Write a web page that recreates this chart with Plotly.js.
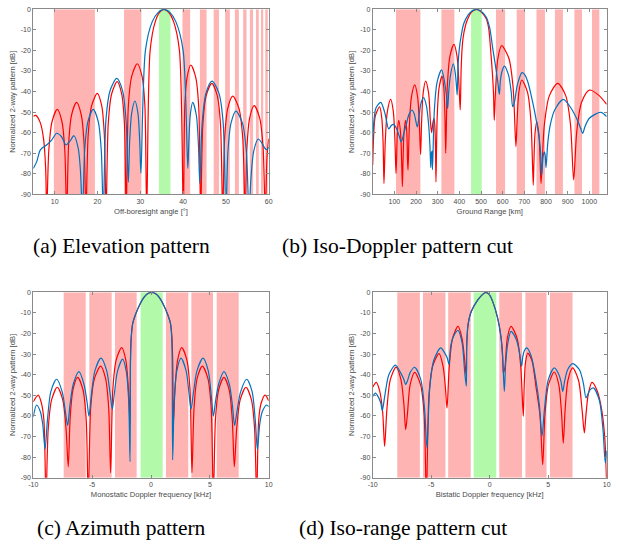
<!DOCTYPE html>
<html><head><meta charset="utf-8">
<script src="https://cdn.plot.ly/plotly-3.0.1.min.js"></script>
<style>html,body{margin:0;padding:0;background:#fff}#chart{width:628px;height:540px}</style>
</head><body><div id="chart"></div>
<script>
// ---------- Panel (a) Elevation pattern ----------
const aRedX = [5,5.6,6.6,7.4,7.9,8.13, 8.62,9.37,10.6,11.7,12.36,12.8, 13.26,13.95,15.1,16.2,16.86,17.3, 17.83,18.63,19.95,20.98,21.59,22.0, 22.52,23.3,24.6,25.65,26.28,26.7, 27.22,28.0,29.3,30.4,31.06,31.5, 32.3,33.5,34.5,35.5,36.64,37.78,39.14,40.05, 40.4,40.93,41.8,42.95,43.64,44.1, 44.62,45.4,46.7,47.98,48.74,49.25, 49.72,50.43,51.6,53.05,53.92,54.5, 54.92,55.55,56.6,57.9,58.68,59.2, 59.6,60];
const aRedY = [-52,-51.6,-55,-63,-78,-100, -68.7,-54.7,-48.7,-54.7,-68.7,-100, -65.3,-51.3,-45.3,-51.3,-65.3,-100, -60.9,-46.9,-40.9,-46.9,-60.9,-100, -55.2,-41.2,-35.2,-41.2,-55.2,-100, -46.5,-32.5,-26.5,-32.5,-46.5,-100, -20,-6,-1.5,0,-1.5,-6,-20,-100, -47.1,-33.1,-27.1,-33.1,-47.1,-100, -56,-42,-36,-42,-56,-100, -62.2,-48.2,-42.2,-48.2,-62.2,-100, -66.9,-52.9,-46.9,-52.9,-66.9,-100, -72,-63];
const aBlueX = [5,5.8,6.5,7.0,8.1,9.3,10.45,11.6,12.65,13.6,14.5,15.5,16.0,16.5, 17.0,17.75,19.0,20.18,20.88,21.35, 21.98,22.93,24.5,25.85,26.66,27.2, 27.51,27.98,28.75,29.45,29.87,30.15, 31.2,32.8,34.2,35.5,36.9,38.3,40.0,41.1, 41.33,41.68,42.25,43.08,43.57,43.9, 44.47,45.33,46.75,48.38,49.35,50.0, 50.47,51.18,52.35,53.88,54.79,55.4, 55.83,56.5,57.57,58.4,59.1,59.6,60];
const aBlueY = [-77.4,-74.1,-69,-67.6,-66,-63.6,-60.3,-62,-66,-64,-61.5,-67.6,-78,-100, -68.7,-54.7,-48.7,-54.7,-68.7,-100, -53.6,-39.6,-33.6,-39.6,-53.6,-84.2, -64.6,-50.6,-44.6,-50.6,-64.6,-79.8, -20,-6,-1.5,0,-1.5,-6,-20,-77.4, -65.3,-51.3,-45.3,-51.3,-65.3,-84.7, -54.9,-40.9,-34.9,-40.9,-54.9,-100, -69.5,-55.5,-49.5,-55.5,-69.5,-100, -83,-69,-63.1,-65,-67.6,-68.3,-67];
const aRedBands = [[9.8,19.4],[26.2,30.25],[39.85,41.65],[43.92,45.48],[47.15,48.38],[49.82,50.93],[52.1,53.03],[54.03,54.83],[55.6,56.35],[57.02,57.68],[58.2,58.72],[59.2,59.78]];
const aGreenBand = [34.35,37.05];
const aTicks = [10,20,30,40,50,60];

// ---------- Panel (b) Iso-Doppler pattern cut ----------
const bRedX = [0,5,12,32,42,48,52, 58.2,67.5,83,95.3,102.6,107.5, 110,113.8,120,128.5,133.6,137, 140,144.5,152,157.5,160.8,163, 169.2,178.5,194,207.5,215.6,221, 225.7,232.7,244.4,258.2,266.5,272, 278,283,287,290,292, 297.6,306,320,328.5,333.6,337, 344.6,356,375,389.5,398.2,404, 408,412,417,428,440,455,478.5,500,523,535,546,553,558,561, 567.8,578,595,628,647.8,661, 666.4,674.5,688,714.5,730.4,741, 744,749,757,767,773,777, 792.4,815.5,854,890.8,912.8,927.5, 942,963.8,1000,1040,1080];
const bRedY = [-75.8,-60,-52,-47.4,-53,-65,-84.7, -63.8,-49.8,-43.8,-49.8,-63.8,-79.8, -74,-60,-54,-60,-74,-86.3, -74,-60,-54,-60,-74,-78.2, -56.8,-42.8,-36.8,-42.8,-56.8,-70.6, -54.9,-40.9,-34.9,-40.9,-54.9,-60, -55,-53,-57,-68,-84, -52.5,-38.5,-32.5,-38.5,-52.5,-70, -37.1,-23.1,-17.1,-23.1,-37.1,-49, -30,-20,-14,-8,-4.4,-1.5,0,-1.2,-4.4,-9,-22,-32,-42,-54, -37.7,-23.7,-17.7,-23.7,-37.7,-66.8, -54.4,-40.4,-34.4,-40.4,-54.4,-85.5, -74.7,-60.7,-54.7,-60.7,-74.7,-84.7, -56,-42,-36,-42,-56,-83, -59.3,-45.3,-39.3,-41.5,-46.2];
const bBlueX = [0,6,15,37,55,74,86,96,110,122,132,142,155,168,182,192,206,214,222,235,248,258,264,268,271,274,276, 284.4,297,318,332,340.4,346, 351,359,372,381,386.4,390, 394,400,409,420,440,458,478.5,500,523,540,554,566,577,584.5, 589,596,607.6,627,639,646, 654.6,667.5,689,700,715,738,755,769,775,780, 786,792,796,800, 808,820,840,880,915,945,960,969,980,1000,1053,1080];
const bBlueY = [-64.5,-54,-48,-45.3,-50,-58.2,-56.5,-56,-58,-61.5,-64.5,-61,-56,-51,-49,-51,-57.2,-52,-46,-43,-47,-56,-66,-77,-70,-69,-78, -49.5,-35.5,-29.5,-35.5,-42,-48.3, -40,-32,-26.5,-31,-37,-41.7, -27,-19,-12.5,-7,-2.8,-0.8,0,-0.9,-3.6,-9,-19,-27,-35,-41.4, -35,-30.5,-27.6,-32,-40,-47.4, -45,-36.8,-30.8,-31.5,-35,-45,-54,-63,-70,-80.7, -72,-69.3,-71,-77, -65,-56,-49,-43.8,-48,-54,-58,-60.4,-57,-53,-50.1,-52.2];
const bRedBands = [[107.5,220],[317,377],[569,611],[664.5,703],[756,795],[841,878],[931,966],[1012,1046]];
const bGreenBand = [454,503];
const bTicks = [100,200,300,400,500,600,700,800,900,1000];

// ---------- Panel (c) Azimuth pattern ----------
const cRedX = [-10,-9.58,-9.3,-9.1,-8.92, -8.73,-8.44,-7.96,-7.5,-7.22,-7.03, -6.87,-6.63,-6.23,-5.78,-5.51,-5.33, -5.12,-4.8,-4.28,-3.86,-3.6,-3.43, -3.24,-2.96,-2.49,-2.14,-1.92,-1.78, -1.75,-1.68,-1.55,-1.3,-1.0,-0.6,-0.3,0.06,0.4,0.7,1.1,1.4,1.65,1.78,1.85,1.9, 2.04,2.26,2.61,3.05,3.31,3.48, 3.66,3.92,4.36,4.83,5.11,5.3, 5.48,5.75,6.2,6.64,6.9,7.08, 7.28,7.58,8.07,8.53,8.8,8.98, 9.15,9.35,9.69,10];
const cRedY = [-53.1,-49.9,-54,-62,-100, -66.1,-52.1,-46.1,-52.1,-66.1,-84.7, -61.3,-47.3,-41.3,-47.3,-61.3,-100, -55.8,-41.8,-35.8,-41.8,-55.8,-87.6, -46.9,-32.9,-26.9,-32.9,-46.9,-63.9, -35,-22,-15,-10.5,-6.5,-2.5,-0.7,0,-0.7,-2.5,-6.5,-10.5,-15,-22,-35,-63.9, -46.9,-32.9,-26.9,-32.9,-46.9,-87.6, -55.8,-41.8,-35.8,-41.8,-55.8,-100, -61.3,-47.3,-41.3,-47.3,-61.3,-84.7, -66.1,-52.1,-46.1,-52.1,-66.1,-100, -62,-54,-49.9,-52.6];
const cBlueX = [-10,-9.72,-9.4,-9.2,-9.0, -8.8,-8.51,-8.02,-7.55,-7.27,-7.08, -6.89,-6.6,-6.12,-5.7,-5.44,-5.27, -5.07,-4.76,-4.25,-3.77,-3.48,-3.29, -3.11,-2.85,-2.41,-2.1,-1.9,-1.78, -1.74,-1.68,-1.55,-1.3,-1.0,-0.6,-0.3,0.06,0.4,0.7,1.1,1.4,1.65,1.76,1.8,1.84, 1.98,2.2,2.55,2.98,3.23,3.4, 3.6,3.91,4.42,4.86,5.12,5.3, 5.48,5.75,6.2,6.65,6.92,7.1, 7.3,7.62,8.13,8.59,8.86,9.04, 9.24,9.45,9.83,10];
const cBlueY = [-60.4,-54.7,-58,-64,-76.2, -62.2,-48.2,-42.2,-48.2,-58,-64.7, -55,-44.5,-38.5,-44.5,-53,-60.1, -50,-38,-32,-38,-49,-56.8, -49,-38.4,-32.4,-38.4,-52.4,-82.2, -32,-22,-15,-10.5,-6.5,-2.5,-0.7,0,-0.7,-2.5,-6.5,-10.5,-15,-22,-32,-81.4, -52,-38,-32,-38,-49,-56.8, -49,-38,-32,-38,-50,-60.1, -53,-44.5,-38.5,-44.5,-55,-64.7, -58,-48.2,-42.2,-48.2,-62.2,-76.2, -64,-58,-54.7,-55.5];
const cRedBands = [[-7.42,-5.55],[-5.24,-3.34],[-3.06,-1.22],[1.27,3.17],[3.43,5.27],[5.58,7.45]];
const cGreenBand = [-0.88,0.99];
const cTicks = [-10,-5,0,5,10];

// ---------- Panel (d) Iso-range pattern cut ----------
const dRedX = [-10,-9.69,-9.4,-9.15,-8.98, -8.78,-8.49,-8.0,-7.59,-7.34,-7.18, -7.03,-6.8,-6.41,-5.91,-5.61,-5.41, -5.19,-4.87,-4.33,-3.99,-3.79,-3.65, -3.46,-3.18,-2.71,-2.36,-2.14,-2.0, -1.96,-1.85,-1.57,-1.0,-0.6,-0.34,-0.05,0.25,0.68,0.97,1.1,1.17, 1.3,1.5,1.82,2.35,2.66,2.87, 2.95,3.06,3.25,3.6,3.96,4.3,4.53, 4.73,5.03,5.52,5.9,6.14,6.29, 6.45,6.69,7.09,7.59,7.89,8.09, 8.22,8.42,8.74,9.2,9.6,9.85,10];
const dRedY = [-46.1,-43.7,-48,-58,-74.8, -56.3,-42.3,-36.3,-42.3,-54,-66.7, -58.9,-44.9,-38.9,-44.9,-58.9,-100, -49.8,-35.8,-29.8,-35.8,-46,-56.2, -36.5,-22.5,-16.5,-22.5,-33,-40.8, -25,-15.7,-9.2,-3.6,-1,0,-1,-4.4,-12.5,-22,-30,-39.2, -36.5,-22.5,-16.5,-22.5,-36.5,-60.2, -45,-34,-29.5,-33,-46,-60,-83.7, -58.7,-44.7,-38.7,-44.7,-58.7,-73.2, -56.7,-42.7,-36.7,-42.7,-56.7,-68.3, -60,-49.7,-43.7,-48,-58,-72,-95];
const dBlueX = [-10,-9.77,-9.5,-9.3,-9.18, -8.96,-8.62,-8.06,-7.62,-7.36,-7.18, -7.03,-6.8,-6.41,-5.89,-5.57,-5.36, -5.13,-4.78,-4.19,-3.84,-3.62,-3.48, -3.33,-3.1,-2.71,-2.36,-2.14,-2.0, -1.97,-1.85,-1.57,-1.0,-0.6,-0.34,-0.05,0.25,0.68,0.97,1.12,1.25, 1.36,1.54,1.82,2.28,2.55,2.73, 2.82,2.95,3.16,3.55,3.96,4.25,4.47, 4.68,5.0,5.52,5.88,6.1,6.24, 6.41,6.67,7.09,7.66,8.0,8.23, 8.36,8.55,8.86,9.37,9.68,9.88,10];
const dBlueY = [-50.5,-48.9,-51,-54,-57.4, -50,-40,-35.4,-39,-42,-44.8, -43,-39,-36.4,-42.4,-56.4,-75.6, -47,-33,-27,-29.5,-32,-35.1, -26,-21.5,-18.5,-24.5,-38.5,-45.6, -27,-15.7,-9.2,-3.6,-1,0,-1,-4.4,-12.5,-22,-33,-48.1, -35,-25,-19,-23,-29.5,-35.9, -31.5,-28.5,-27,-31,-43,-55,-69.9, -56.7,-42.7,-36.7,-39.5,-43.5,-48.1, -43,-37.5,-34.6,-37.5,-44,-51.3, -50,-47.5,-46.4,-52.4,-66.4,-82.9,-77];
const dRedBands = [[-7.9,-5.97],[-5.7,-3.78],[-3.55,-1.62],[0.82,2.76],[3.05,4.86],[5.15,7.08]];
const dGreenBand = [-1.37,0.56];
const dTicks = [-10,-5,0,5,10];

const yTicks = [-90,-80,-70,-60,-50,-40,-30,-20,-10,0];
const xTitles = ['Off-boresight angle [°]','Ground Range [km]','Monostatic Doppler frequency [kHz]','Bistatic Doppler frequency [kHz]'];
const yTitle = 'Normalized 2-way pattern [dB]';
const captions = ['(a) Elevation pattern','(b) Iso-Doppler pattern cut','(c) Azimuth pattern','(d) Iso-range pattern cut'];

// ---------- build ----------
const RED = 'rgb(255,0,0)', BLUE = 'rgb(0,114,189)';
const BAND_RED = 'rgb(255,180,180)', BAND_GREEN = 'rgb(178,250,170)';
const panels = [
  {rx:aRedX, ry:aRedY, bx:aBlueX, by:aBlueY, bands:aRedBands, green:aGreenBand, ticks:aTicks, range:[5,60]},
  {rx:bRedX, ry:bRedY, bx:bBlueX, by:bBlueY, bands:bRedBands, green:bGreenBand, ticks:bTicks, range:[0,1080]},
  {rx:cRedX, ry:cRedY, bx:cBlueX, by:cBlueY, bands:cRedBands, green:cGreenBand, ticks:cTicks, range:[-10,10]},
  {rx:dRedX, ry:dRedY, bx:dBlueX, by:dBlueY, bands:dRedBands, green:dGreenBand, ticks:dTicks, range:[-10,10]}
];
const W = 628, H = 540;
const xdom = [[33.3/W, 268.7/W],[372.7/W, 606.7/W]];
const ydom = [[1-194.3/H, 1-9.3/H],[1-477.7/H, 1-292.3/H]];
const capPos = [[121.5,245.5],[397,245.5],[121.5,527.5],[402.5,527.5]];

const traces = [], shapes = [], annotations = [];
const layout = {width:W, height:H, margin:{l:0,r:0,t:0,b:0}, paper_bgcolor:'#fff', plot_bgcolor:'#fff', showlegend:false};
const axCol = '#8a8a8a', lblCol = '#4a4a4a';
panels.forEach((p, i) => {
  const n = i+1, xs = n===1?'x':'x'+n, ys = n===1?'y':'y'+n;
  const xk = n===1?'xaxis':'xaxis'+n, yk = n===1?'yaxis':'yaxis'+n;
  traces.push({x:p.rx, y:p.ry, xaxis:xs, yaxis:ys, type:'scatter', mode:'lines', line:{color:RED, width:1.2, shape:'spline', smoothing:0.8}, hoverinfo:'skip'});
  traces.push({x:p.bx, y:p.by, xaxis:xs, yaxis:ys, type:'scatter', mode:'lines', line:{color:BLUE, width:1.2, shape:'spline', smoothing:0.8}, hoverinfo:'skip'});
  p.bands.forEach(b => shapes.push({type:'rect', xref:xs, yref:ys, x0:b[0], x1:b[1], y0:-90, y1:0, fillcolor:BAND_RED, line:{width:0}, layer:'below'}));
  shapes.push({type:'rect', xref:xs, yref:ys, x0:p.green[0], x1:p.green[1], y0:-90, y1:0, fillcolor:BAND_GREEN, line:{width:0}, layer:'below'});
  const common = {showline:true, linecolor:axCol, linewidth:1, mirror:'ticks', ticks:'inside', ticklen:3, tickwidth:1, tickcolor:axCol,
    showgrid:false, zeroline:false, tickfont:{family:'Liberation Sans, Arial, sans-serif', size:7, color:lblCol}, fixedrange:true};
  layout[xk] = Object.assign({}, common, {domain:xdom[i%2], anchor:ys, range:p.range, tickmode:'array', tickvals:p.ticks, ticktext:p.ticks.map(String),
    title:{text:xTitles[i], font:{family:'Liberation Sans, Arial, sans-serif', size:7.6, color:lblCol}, standoff:4}});
  layout[yk] = Object.assign({}, common, {domain:ydom[Math.floor(i/2)], anchor:xs, range:[-90,0], tickmode:'array', tickvals:yTicks, ticktext:yTicks.map(String),
    title:{text:yTitle, font:{family:'Liberation Sans, Arial, sans-serif', size:7.6, color:lblCol}, standoff:4}});
  annotations.push({xref:'paper', yref:'paper', x:capPos[i][0]/W, y:1-capPos[i][1]/H, xanchor:'center', yanchor:'middle', showarrow:false,
    text:captions[i], font:{family:'Liberation Serif, Times New Roman, serif', size:21.5, color:'#000'}});
});
layout.shapes = shapes;
layout.annotations = annotations;
Plotly.newPlot('chart', traces, layout, {staticPlot:true, displayModeBar:false});
</script></body></html>
